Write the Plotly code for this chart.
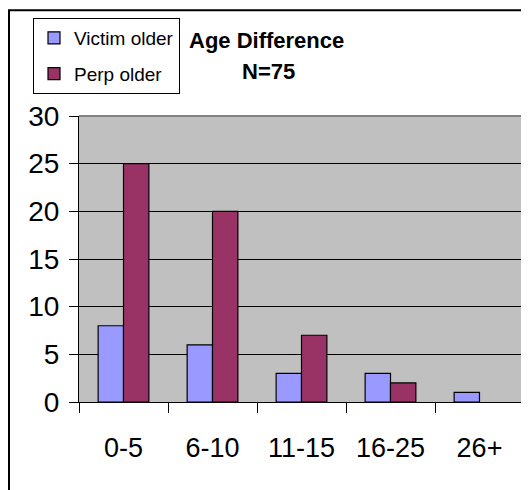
import plotly.graph_objects as go

categories = ["0-5", "6-10", "11-15", "16-25", "26+"]
victim_older = [8, 6, 3, 3, 1]
perp_older = [25, 20, 7, 2, 0]
y_ticks = [0, 5, 10, 15, 20, 25, 30]

W, H = 529, 490
OFF = 8  # page body margin offset
# target plot area in window pixels
PX0, PX1, PY0, PY1 = 79, 524, 115, 402
L = PX0 - OFF
R = W - (PX1 - OFF)
T = PY0 - OFF
B = H - (PY1 - OFF)
pw, ph = PX1 - PX0, PY1 - PY0

def px(x):
    return (x - PX0) / pw

def py(y):
    return (PY1 - y) / ph

perp_line_w = [0 if v == 0 else 1.2 for v in perp_older]

fig = go.Figure()
fig.add_trace(go.Bar(name="Victim older", x=categories, y=victim_older, legendgroup="a",
                     marker=dict(color="#9999FF", line=dict(color="black", width=1.2))))
fig.add_trace(go.Bar(name="Perp older", x=categories, y=perp_older, legendgroup="b",
                     marker=dict(color="#993366", line=dict(color="black", width=perp_line_w))))

FONT = "Liberation Sans, Arial, sans-serif"
fig.update_layout(
    width=W, height=H,
    margin=dict(l=L, r=R, t=T, b=B, pad=0),
    paper_bgcolor="white", plot_bgcolor="#C0C0C0",
    barmode="group", bargap=0.43, bargroupgap=0,
    font=dict(family=FONT, color="black"),
    showlegend=True,
    legend=dict(x=px(33), y=py(18), xanchor="left", yanchor="top",
                bgcolor="white", bordercolor="black", borderwidth=1,
                font=dict(size=19), tracegroupgap=8, itemwidth=30),
    xaxis=dict(type="category", tickson="boundaries", ticks="outside", ticklen=10,
               tickcolor="black", tickwidth=1, showline=True, linecolor="black",
               linewidth=1, tickfont=dict(size=27), ticklabelstandoff=22,
               showgrid=False, zeroline=False),
    yaxis=dict(range=[0, 30], tickvals=y_ticks, ticks="outside", ticklen=9,
               tickcolor="black", tickwidth=1, showline=True, linecolor="black",
               linewidth=1, tickfont=dict(size=28), ticklabelstandoff=4,
               showgrid=True, gridcolor="black", gridwidth=1, zeroline=False),
)

# plot area top/right border (gray)
fig.add_shape(type="line", xref="paper", yref="paper", x0=0, x1=1, y0=1, y1=1,
              line=dict(color="#808080", width=2))
fig.add_shape(type="line", xref="paper", yref="paper", x0=1, x1=1, y0=0, y1=1,
              line=dict(color="#808080", width=2))
# outer chart border (left and top edges visible)
fig.add_shape(type="rect", xref="paper", yref="paper", x0=px(OFF + 1), x1=px(560),
              y0=py(530), y1=py(OFF + 1), line=dict(color="black", width=2),
              fillcolor="rgba(0,0,0,0)", layer="above")

fig.add_annotation(text="<b>Age Difference</b>", xref="paper", yref="paper",
                   x=px(266), y=py(39), xanchor="center", yanchor="middle",
                   showarrow=False, font=dict(size=22))
fig.add_annotation(text="<b>N=75</b>", xref="paper", yref="paper",
                   x=px(268), y=py(70), xanchor="center", yanchor="middle",
                   showarrow=False, font=dict(size=22))

fig.write_html("out.html")
